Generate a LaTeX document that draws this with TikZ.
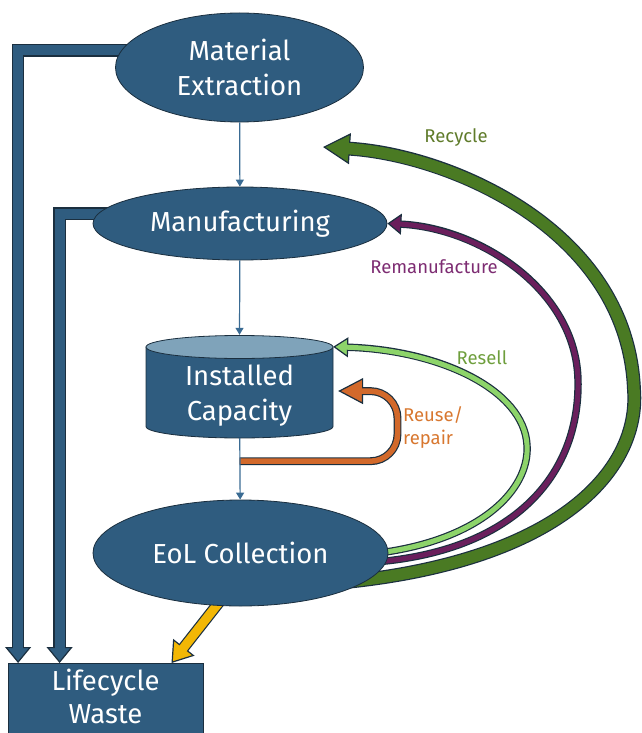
\documentclass[tikz,border=0pt]{standalone}
\usepackage{fontspec}
\setmainfont{Fira Sans}
\usetikzlibrary{arrows.meta,shapes.geometric,backgrounds}

\definecolor{nodeblue}{HTML}{2F5C7F}
\definecolor{edge}{HTML}{1B2F3F}
\definecolor{captop}{HTML}{7FA3BA}
\definecolor{thinblue}{HTML}{3A6B93}
\definecolor{recyclegreen}{HTML}{4A7A23}
\definecolor{remanpurple}{HTML}{6A1F5C}
\definecolor{resellgreen}{HTML}{8DD46A}
\definecolor{reuseorange}{HTML}{D2692B}
\definecolor{wasteyellow}{HTML}{F2B705}
\definecolor{recycletext}{HTML}{5F7B2A}
\definecolor{remantext}{HTML}{7D2C72}
\definecolor{reselltext}{HTML}{6E9E3C}
\definecolor{reusetext}{HTML}{D8772F}

\tikzset{
  stage/.style={ellipse, fill=nodeblue, draw=edge, line width=0.8pt, text=white, align=center, font=\fontsize{27.5}{35}\selectfont, inner sep=0pt},
  flow/.style={draw=thinblue, line width=1.2pt, -{Triangle[width=8pt,length=7pt]}},
  blockarrow/.style n args={4}{draw=edge, line width=#2+2.4pt, -{Triangle[width=#3,length=#4,fill=#1,line width=1.2pt]}, postaction={draw=#1, line width=#2, -, shorten >=#4-2pt}},
  lbl/.style={font=\fontsize{18.5}{23}\selectfont, inner sep=0pt},
}

\begin{document}
\begin{tikzpicture}[x=1pt,y=-1pt]
	\useasboundingbox (0,0) rectangle (641,733);
	% stages
	\node[stage, minimum width=248pt, minimum height=109pt] (extract) at (239.5,67.5) {Material\\Extraction};
	\node[stage, minimum width=294pt, minimum height=73pt] (manuf) at (240,223.5) {Manufacturing};
	\node[align=center, text=white, font=\fontsize{27.5}{35}\selectfont, minimum width=187pt, minimum height=84pt, inner sep=0pt] (capacity) at (239.5,396) {Installed\\Capacity};
	\node[stage, minimum width=295pt, minimum height=106pt] (eol) at (240.5,553) {EoL Collection};
	\node[rectangle, fill=nodeblue, draw=edge, line width=0.8pt, text=white, align=center, font=\fontsize{27.5}{33}\selectfont, minimum width=195pt, minimum height=82pt, anchor=north] (waste) at (105.5,663) {Lifecycle\\Waste\rule[-16pt]{0pt}{16pt}};
	\coordinate (captop) at ([yshift=19pt]capacity.north);
	\coordinate (capright) at ([yshift=7pt]capacity.north east);
	\coordinate (reusetip) at ([xshift=5pt,yshift=5pt]capacity.east);
	\coordinate (recycletip) at (323,147);
	% loops and losses behind the stages
	\begin{scope}[on background layer]
		\draw[blockarrow={nodeblue}{10pt}{26pt}{16pt}] ([yshift=17pt]extract.center) -| ([xshift=10.5pt]waste.north west);
		\draw[blockarrow={nodeblue}{10pt}{26pt}{16pt}] ([yshift=10pt]manuf.center) -| ([xshift=52pt]waste.north west);
		\draw[blockarrow={wasteyellow}{9pt}{27pt}{20pt}] ([shift={(-18,45)}]eol.center) -- ([xshift=66pt]waste.north);
		\draw[blockarrow={recyclegreen}{11.5pt}{31pt}{27pt}] ([shift={(105,29)}]eol.center) .. controls (560,560) and (640,470) .. (634,390) .. controls (628,230) and (450,155) .. (recycletip);
		\draw[blockarrow={remanpurple}{5pt}{21pt}{14pt}] ([shift={(135,9)}]eol.center) .. controls (520,550) and (580,470) .. (578,380) .. controls (576,290) and (480,228) .. (manuf.east);
		\draw[blockarrow={resellgreen}{5pt}{20pt}{15pt}] ([shift={(138,0)}]eol.center) .. controls (480,540) and (530,490) .. (527,445) .. controls (524,390) and (440,350) .. (capright);
		\draw[blockarrow={reuseorange}{5.5pt}{26pt}{25pt}, rounded corners=27pt] ([yshift=-23pt]capacity.south) -- ++(158,0) -- ++(0,-70) -- (reusetip);
		% cylinder
		\filldraw[fill=nodeblue, draw=edge, line width=0.8pt] (146,347) -- (146,426.5) arc[start angle=180, end angle=0, x radius=93.5, y radius=11.5] -- (333,347) -- cycle;
		\filldraw[fill=captop, draw=edge, line width=0.8pt] (239.5,347) ellipse [x radius=93.5, y radius=11.5];
	\end{scope}
	\draw[flow] (extract) -- (manuf);
	\draw[flow] (manuf) -- (captop);
	\draw[flow] (capacity) -- (eol);
	% labels
	\node[lbl, text=recycletext] (recyclelbl) at (456,138) {Recycle};
	\node[lbl, text=remantext] (remanlbl) at (434,267) {Remanufacture};
	\node[lbl, text=reselltext] (reselllbl) at (482,358) {Resell};
	\node[lbl, text=reusetext, align=left, anchor=west] (reuselbl) at (403,428) {Reuse/\\repair};
\end{tikzpicture}
\end{document}
